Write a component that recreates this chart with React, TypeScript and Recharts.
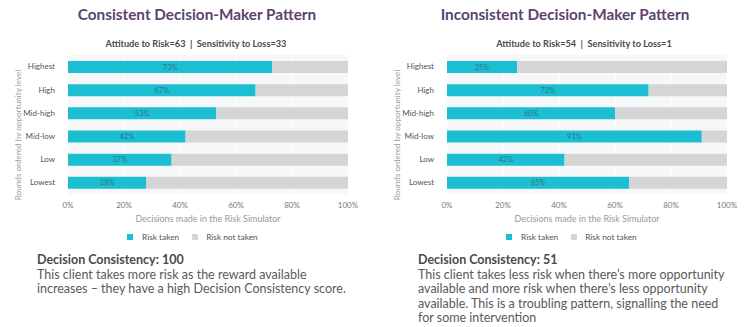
import React from "react";
import { BarChart, Bar, XAxis, YAxis, CartesianGrid, LabelList, Legend } from "recharts";

const categories = ["Highest", "High", "Mid-high", "Mid-low", "Low", "Lowest"];
const consistentTaken = [73, 67, 53, 42, 37, 28];
const inconsistentTaken = [25, 72, 60, 91, 42, 65];
const xTicks = [0, 20, 40, 60, 80, 100];
const seriesNames = ["Risk taken", "Risk not taken"];

const CYAN = "#1bbfd1";
const GREY = "#d5d5d5";
const FONT = "Lato, 'Open Sans', sans-serif";

const build = (taken: number[]) =>
  categories.map((c, i) => ({ cat: c, taken: taken[i], notTaken: 100 - taken[i] }));

const YLabel = () => {
  const cx = 18;
  const cy = 135;
  return (
    <text x={cx} y={cy} transform={`rotate(-90 ${cx} ${cy})`} textAnchor="middle" dominantBaseline="central" fontSize={8.2} fill="#a0a0a0" fontFamily={FONT}>
      Rounds ordered by opportunity level
    </text>
  );
};

const LegendContent = () => (
  <div style={{ display: "flex", alignItems: "center", fontSize: 8.3, color: "#555", fontFamily: FONT, height: 16 }}>
    <span style={{ display: "inline-block", width: 6, height: 6, background: CYAN, marginLeft: 127, marginRight: 9 }} />
    <span>{seriesNames[0]}</span>
    <span style={{ display: "inline-block", width: 6, height: 6, background: GREY, marginLeft: 13, marginRight: 8 }} />
    <span>{seriesNames[1]}</span>
  </div>
);

const Chart = ({ taken }: { taken: number[] }) => (
  <BarChart
    width={375}
    height={245}
    data={build(taken)}
    layout="vertical"
    margin={{ top: 55, right: 27, bottom: 0, left: 8 }}
    barSize={12}
    style={{ fontFamily: FONT }}
  >
    <CartesianGrid horizontal={false} stroke="#ffffff" fill="#f6f7f9" />
    <XAxis
      type="number"
      domain={[0, 100]}
      ticks={xTicks}
      tickFormatter={(v) => `${v}%`}
      axisLine={false}
      tickLine={false}
      tick={{ fontSize: 8, fill: "#777" }}
      height={35}
      label={{ value: "Decisions made in the Risk Simulator", position: "insideBottom", offset: 7, fontSize: 9, fill: "#999" }}
    />
    <YAxis
      type="category"
      dataKey="cat"
      width={60}
      axisLine={false}
      tickLine={false}
      tick={{ fontSize: 8, fill: "#555" }}
      tickMargin={7}
      label={<YLabel />}
    />
    <Legend verticalAlign="bottom" align="left" height={16} content={<LegendContent />} wrapperStyle={{ left: 0, width: 375 }} />
    <Bar dataKey="taken" name={seriesNames[0]} stackId="a" fill={CYAN} isAnimationActive={false}>
      <LabelList dataKey="taken" position="center" formatter={(v: any) => `${v}%`} style={{ fontSize: 7.5, fill: "#2b7787" }} />
    </Bar>
    <Bar dataKey="notTaken" name={seriesNames[1]} stackId="a" fill={GREY} isAnimationActive={false} />
  </BarChart>
);

const titleStyle: React.CSSProperties = {
  position: "absolute",
  fontWeight: 700,
  fontSize: 15.3,
  color: "#5b4370",
  whiteSpace: "nowrap",
  transform: "translateX(-50%)",
};
const subStyle: React.CSSProperties = {
  position: "absolute",
  fontWeight: 700,
  fontSize: 9.2,
  color: "#4a4a4a",
  whiteSpace: "pre",
  transform: "translateX(-50%)",
};
const headStyle: React.CSSProperties = { fontWeight: 700, fontSize: 12.5, color: "#4a4a4a" };
const bodyStyle: React.CSSProperties = { fontSize: 12.5, color: "#5a5a5a" };

export default function App() {
  return (
    <div style={{ position: "absolute", left: 0, top: 0, width: 750, height: 327, background: "#fff", fontFamily: FONT, overflow: "hidden" }}>
      <div style={{ ...titleStyle, left: 197, top: 5 }}>Consistent Decision-Maker Pattern</div>
      <div style={{ ...titleStyle, left: 565, top: 5 }}>Inconsistent Decision-Maker Pattern</div>
      <div style={{ ...subStyle, left: 196, top: 38 }}>Attitude to Risk=63  |  Sensitivity to Loss=33</div>
      <div style={{ ...subStyle, left: 584, top: 38 }}>Attitude to Risk=54  |  Sensitivity to Loss=1</div>
      <div style={{ position: "absolute", left: 0, top: 0 }}>
        <Chart taken={consistentTaken} />
      </div>
      <div style={{ position: "absolute", left: 379, top: 0 }}>
        <Chart taken={inconsistentTaken} />
      </div>
      <div style={{ position: "absolute", left: 37, top: 253, width: 320, lineHeight: "14.5px" }}>
        <div style={headStyle}>Decision Consistency: 100</div>
        <div style={bodyStyle}>This client takes more risk as the reward available increases – they have a high Decision Consistency score.</div>
      </div>
      <div style={{ position: "absolute", left: 418, top: 253, width: 310, lineHeight: "14.5px" }}>
        <div style={headStyle}>Decision Consistency: 51</div>
        <div style={bodyStyle}>This client takes less risk when there’s more opportunity available and more risk when there’s less opportunity available. This is a troubling pattern, signalling the need for some intervention</div>
      </div>
    </div>
  );
}
